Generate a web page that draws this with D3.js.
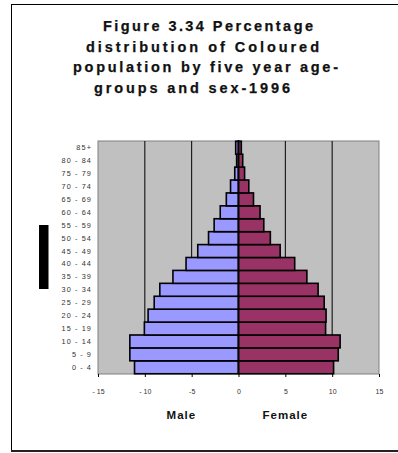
<!DOCTYPE html>
<html>
<head>
<meta charset="utf-8">
<script src="https://cdn.jsdelivr.net/npm/d3@7"></script>
<style>
  html, body { margin: 0; padding: 0; background: #fff; }
  svg { display: block; font-family: Arial, "Liberation Sans", sans-serif; }
</style>
</head>
<body>
<svg id="chart" width="398" height="453"></svg>
<script>
// Five-year age groups, youngest first
const ageGroups = ["0 - 4", "5 - 9", "10 - 14", "15 - 19", "20 - 24", "25 - 29",
  "30 - 34", "35 - 39", "40 - 44", "45 - 49", "50 - 54", "55 - 59",
  "60 - 64", "65 - 69", "70 - 74", "75 - 79", "80 - 84", "85+"];

// Percentage of the population in each age group (males plotted to the left)
const malePct = [-11.1, -11.6, -11.6, -10.05, -9.65, -9.0, -8.4, -7.0, -5.6,
  -4.35, -3.2, -2.6, -1.95, -1.3, -0.85, -0.4, -0.2, -0.3];
const femalePct = [10.15, 10.65, 10.85, 9.3, 9.35, 9.15, 8.5, 7.3, 6.0,
  4.45, 3.4, 2.7, 2.3, 1.6, 1.1, 0.65, 0.45, 0.3];

const xTicks = [-15, -10, -5, 0, 5, 10, 15];
const gridValues = [-10, -5, 5, 10];

const titleLines = ["Figure 3.34 Percentage", "distribution of Coloured",
  "population by five year age-", "groups and sex-1996"];
const sexLabels = ["Male", "Female"];

const svg = d3.select("#chart");

// Chart area border
svg.append("rect")
  .attr("x", 11.5).attr("y", 4.5).attr("width", 400).attr("height", 446)
  .attr("fill", "#fff").attr("stroke", "#000").attr("stroke-width", 1);
svg.append("line")
  .attr("x1", 11).attr("x2", 398).attr("y1", 451).attr("y2", 451)
  .attr("stroke", "#222").attr("stroke-width", 2);

// Title
const titleLayout = [
  { x: 103, y: 31, w: 210 },
  { x: 86, y: 51.5, w: 233 },
  { x: 73, y: 72, w: 265 },
  { x: 94, y: 92.5, w: 196 }
];
svg.append("g").selectAll("text")
  .data(titleLines)
  .join("text")
  .attr("x", (d, i) => titleLayout[i].x)
  .attr("y", (d, i) => titleLayout[i].y)
  .attr("textLength", (d, i) => titleLayout[i].w)
  .attr("lengthAdjust", "spacing")
  .attr("font-size", 14.5)
  .attr("font-weight", "bold")
  .attr("fill", "#111")
  .attr("stroke", "#111")
  .attr("stroke-width", 0.25)
  .text(d => d);

// Scales
const x = d3.scaleLinear().domain([-15, 15]).range([98, 379]);
const y = d3.scaleBand()
  .domain(ageGroups.slice().reverse())
  .range([141, 374])
  .paddingInner(0)
  .paddingOuter(0.02);

const plotTop = 141, plotBottom = 374;

// Plot area
svg.append("rect")
  .attr("x", x(-15)).attr("y", plotTop)
  .attr("width", x(15) - x(-15)).attr("height", plotBottom - plotTop)
  .attr("fill", "#c0c0c0").attr("stroke", "#808080").attr("stroke-width", 1);

// Vertical gridlines
svg.append("g").selectAll("line")
  .data(gridValues)
  .join("line")
  .attr("x1", d => x(d)).attr("x2", d => x(d))
  .attr("y1", plotTop).attr("y2", plotBottom)
  .attr("stroke", "#000").attr("stroke-width", 1);

// Bars
const rows = ageGroups.map((g, i) => ({ group: g, male: malePct[i], female: femalePct[i] }));
const bars = svg.append("g");
bars.selectAll("rect.male")
  .data(rows)
  .join("rect")
  .attr("class", "male")
  .attr("x", d => x(d.male))
  .attr("y", d => y(d.group))
  .attr("width", d => x(0) - x(d.male))
  .attr("height", y.bandwidth())
  .attr("fill", "#9999ff")
  .attr("stroke", "#000").attr("stroke-width", 1.6);
bars.selectAll("rect.female")
  .data(rows)
  .join("rect")
  .attr("class", "female")
  .attr("x", x(0))
  .attr("y", d => y(d.group))
  .attr("width", d => x(d.female) - x(0))
  .attr("height", y.bandwidth())
  .attr("fill", "#993366")
  .attr("stroke", "#000").attr("stroke-width", 1.6);

// Category axis along zero
svg.append("line")
  .attr("x1", x(0)).attr("x2", x(0))
  .attr("y1", plotTop - 1).attr("y2", plotBottom)
  .attr("stroke", "#000").attr("stroke-width", 1.5);

// Age group labels
svg.append("g").selectAll("text")
  .data(ageGroups)
  .join("text")
  .attr("x", 92)
  .attr("y", d => y(d) + y.bandwidth() / 2 + 2.5)
  .attr("text-anchor", "end")
  .attr("font-size", 7.3)
  .attr("letter-spacing", 1.1)
  .attr("fill", "#333")
  .text(d => d);

// Value axis at the bottom
const xAxis = d3.axisBottom(x)
  .tickValues(xTicks)
  .tickSize(3)
  .tickPadding(12)
  .tickFormat(d => d < 0 ? (d <= -10 ? "- " + Math.abs(d) : "-" + Math.abs(d)) : String(d));
const axisG = svg.append("g")
  .attr("transform", `translate(0,${plotBottom})`)
  .call(xAxis);
axisG.select(".domain").remove();
axisG.selectAll(".tick line").attr("stroke", "#000");
axisG.selectAll(".tick text")
  .attr("font-size", 7)
  .attr("font-family", "Arial, 'Liberation Sans', sans-serif")
  .attr("fill", "#333");

// Sex labels under the axis
svg.append("g").selectAll("text")
  .data(sexLabels)
  .join("text")
  .attr("x", (d, i) => i === 0 ? x(-6.1) : x(5))
  .attr("y", 419)
  .attr("text-anchor", "middle")
  .attr("font-size", 11.5)
  .attr("font-weight", "bold")
  .attr("letter-spacing", 1)
  .attr("fill", "#111")
  .text(d => d);

// Solid black marker block at the left edge
svg.append("rect")
  .attr("x", 39).attr("y", 225).attr("width", 9.5).attr("height", 64)
  .attr("fill", "#000");
</script>
</body>
</html>
